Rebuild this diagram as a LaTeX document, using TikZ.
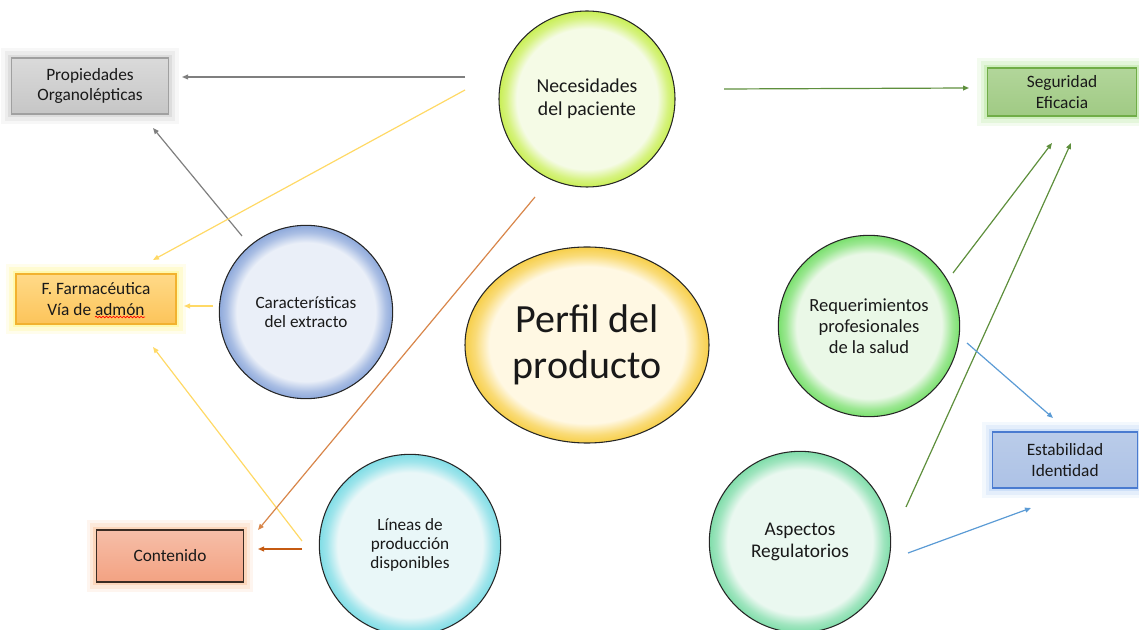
\documentclass[tikz,border=0pt]{standalone}
\usepackage{fontspec}
\setmainfont{Carlito}
\usepackage{xcolor}
\usepackage{tikz}
\usetikzlibrary{positioning,shapes.geometric,arrows.meta,decorations.pathmorphing}

\definecolor{lnGray}{HTML}{7F7F7F}
\definecolor{lnYel}{HTML}{FFD966}
\definecolor{lnOra}{HTML}{D8864A}
\definecolor{lnOraD}{HTML}{C55A11}
\definecolor{lnGrn}{HTML}{5E8F3C}
\definecolor{lnBlu}{HTML}{5B9BD5}
% circles: rim / middle
\definecolor{necRim}{HTML}{C9EF55}  \definecolor{necMid}{HTML}{F5FBE6}
\definecolor{carRim}{HTML}{8EA9DB}  \definecolor{carMid}{HTML}{EAEFF8}
\definecolor{perRim}{HTML}{F7CF4A}  \definecolor{perMid}{HTML}{FFF8E3}
\definecolor{reqRim}{HTML}{7AE06E}  \definecolor{reqMid}{HTML}{EAF8E7}
\definecolor{aspRim}{HTML}{80DDAA}  \definecolor{aspMid}{HTML}{EAF8F0}
\definecolor{linRim}{HTML}{80DDE6}  \definecolor{linMid}{HTML}{E9F7F8}
% boxes: border / top / bottom / glow
\definecolor{propLn}{HTML}{A0A0A0} \definecolor{propTop}{HTML}{DADADA} \definecolor{propBot}{HTML}{C6C6C6} \definecolor{propGlow}{HTML}{B0B0B0}
\definecolor{farmLn}{HTML}{F2B22F} \definecolor{farmTop}{HTML}{FFDA88} \definecolor{farmBot}{HTML}{FCC45A} \definecolor{farmGlow}{HTML}{FFF040}
\definecolor{contLn}{HTML}{3B2B22} \definecolor{contTop}{HTML}{F6BEA8} \definecolor{contBot}{HTML}{F3A282} \definecolor{contGlow}{HTML}{F8A060}
\definecolor{segLn}{HTML}{70AD47}  \definecolor{segTop}{HTML}{B2D69A}  \definecolor{segBot}{HTML}{A0CA84}  \definecolor{segGlow}{HTML}{8ED866}
\definecolor{estLn}{HTML}{4A7BD0}  \definecolor{estTop}{HTML}{BACCE9}  \definecolor{estBot}{HTML}{ADC2E6}  \definecolor{estGlow}{HTML}{8DB6EE}

\colorlet{rimcol}{gray}
\colorlet{midcol}{white}
\pgfdeclareradialshading[rimcol,midcol]{rim}{\pgfpoint{0bp}{0bp}}{color(0bp)=(midcol); color(20bp)=(midcol); color(23bp)=(rimcol!70!midcol); color(25bp)=(rimcol); color(50bp)=(rimcol)}
\newcommand\fs[2]{\fontsize{#1}{#2}\selectfont}

\tikzset{
  rimc/.code={\colorlet{rimcol}{#1}},
  midc/.code={\colorlet{midcol}{#1}},
  bub/.style={circle, draw=black!85, line width=.8pt, shading=rim, align=center, inner sep=0pt, text=black!90},
  box/.style={rectangle, line width=.8pt, align=center, inner sep=0pt, text=black!90, font=\fs{13}{15.5}},
  glow/.style={preaction={draw=#1, draw opacity=.10, line width=15pt, rounded corners=6pt},
               preaction={draw=#1, draw opacity=.15, line width=10pt, rounded corners=4pt},
               preaction={draw=#1, draw opacity=.25, line width=5pt}},
  link/.style={line width=.9pt, -{Triangle[length=4.5pt,width=3.6pt]}}
}

\begin{document}
\begin{tikzpicture}[x=.75pt,y=-.75pt]
  \useasboundingbox (0,0) rectangle (1139,630);
  \clip (0,0) rectangle (1139,630);

  \node[bub, rimc=necRim, midc=necMid, minimum size=132pt, font=\fs{14.8}{17.3}] (nec) at (587,99) {Necesidades\\del paciente};
  \node[bub, rimc=carRim, midc=carMid, minimum size=130pt, font=\fs{12.9}{14.8}] (car) at (306,312) {Características\\del extracto};
  \node[bub, rimc=perRim, midc=perMid, shape=ellipse, minimum width=183pt, minimum height=147pt, font=\fs{30}{34.5}] (perfil) at (587,345) {Perfil del\\producto};
  \node[bub, rimc=reqRim, midc=reqMid, minimum size=136pt, font=\fs{13.9}{15.8}] (req) at (869,326) {Requerimientos\\profesionales\\de la salud};
  \node[bub, rimc=aspRim, midc=aspMid, minimum size=136pt, font=\fs{14.5}{16.5}] (asp) at (800,542) {Aspectos\\Regulatorios};
  \node[bub, rimc=linRim, midc=linMid, minimum size=136pt, font=\fs{12.9}{14.5}] (lin) at (410,545) {Líneas de\\producción\\disponibles};

  \node[box, draw=propLn, top color=propTop, bottom color=propBot, glow=propGlow, minimum width=118pt, minimum height=42pt] (prop) at (90,86) {Propiedades\\Organolépticas};
  \node[box, draw=farmLn, top color=farmTop, bottom color=farmBot, glow=farmGlow, minimum width=120pt, minimum height=37.5pt] (farm) at (96,299) {F. Farmacéutica\\Vía de admón};
  \node[box, draw=contLn, top color=contTop, bottom color=contBot, glow=contGlow, minimum width=110pt, minimum height=39pt] (cont) at (170,556) {Contenido};
  \node[box, draw=segLn, top color=segTop, bottom color=segBot, glow=segGlow, minimum width=112pt, minimum height=36pt] (seg) at (1062,92) {Seguridad\\Eficacia};
  \node[box, draw=estLn, top color=estTop, bottom color=estBot, glow=estGlow, minimum width=109pt, minimum height=42pt] (est) at (1065,460) {Estabilidad\\Identidad};

  \draw[red, line width=.5pt, decorate, decoration={snake, amplitude=.6pt, segment length=2.6pt}] (95,317) -- (145,317);

  \coordinate (necL) at (465,77);   \coordinate (propR) at (182,77);
  \coordinate (carT) at (242,236);  \coordinate (propB) at (153,128);
  \coordinate (necY) at (465,90);   \coordinate (farmT) at (153,260);
  \coordinate (carL) at (213,306);  \coordinate (farmR) at (184,306);
  \coordinate (linY) at (302,541);  \coordinate (farmB) at (153,347);
  \coordinate (necB) at (535,197);  \coordinate (contT) at (258,530);
  \coordinate (linL) at (302,549);  \coordinate (contR) at (258,549);
  \coordinate (necR) at (724,89);   \coordinate (segL) at (969,88);
  \coordinate (reqT) at (953,273);  \coordinate (segB1) at (1052,143);
  \coordinate (aspT) at (906,507);  \coordinate (segB2) at (1071,143);
  \coordinate (reqR) at (967,343);  \coordinate (estT) at (1053,418);
  \coordinate (aspR) at (908,553);  \coordinate (estB) at (1031,508);

  \draw[link, lnGray] (necL) -- (propR);
  \draw[link, lnGray] (carT) -- (propB);
  \draw[link, lnYel] (necY) -- (farmT);
  \draw[link, lnYel] (carL) -- (farmR);
  \draw[link, lnYel] (linY) -- (farmB);
  \draw[link, lnOra] (necB) -- (contT);
  \draw[link, lnOraD] (linL) -- (contR);
  \draw[link, lnGrn] (necR) -- (segL);
  \draw[link, lnGrn] (reqT) -- (segB1);
  \draw[link, lnGrn] (aspT) -- (segB2);
  \draw[link, lnBlu] (reqR) -- (estT);
  \draw[link, lnBlu] (aspR) -- (estB);
\end{tikzpicture}
\end{document}
